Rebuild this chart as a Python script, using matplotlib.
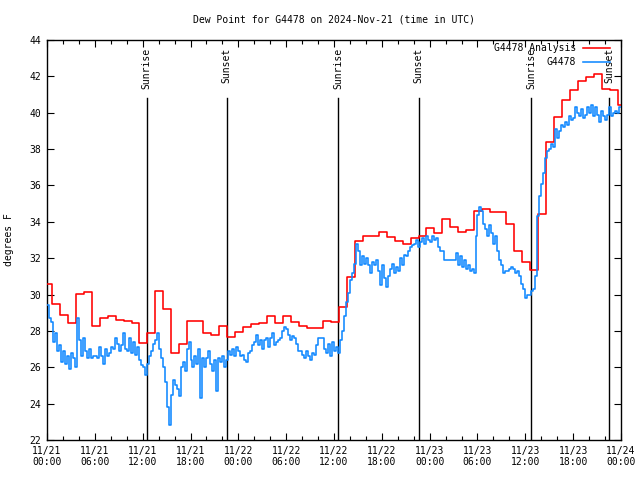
import numpy as np
import matplotlib
matplotlib.use("Agg")
import matplotlib.pyplot as plt

# ---------------- data ----------------
# hours since 2024-11-21 00:00 UTC
tick_hours = [0, 6, 12, 18, 24, 30, 36, 42, 48, 54, 60, 66, 72]
tick_labels = ["11/21\n00:00", "11/21\n06:00", "11/21\n12:00", "11/21\n18:00",
               "11/22\n00:00", "11/22\n06:00", "11/22\n12:00", "11/22\n18:00",
               "11/23\n00:00", "11/23\n06:00", "11/23\n12:00", "11/23\n18:00",
               "11/24\n00:00"]

# analysis (hourly steps, each value starts at hour - 0.4)
analysis_start = -0.4
analysis = [30.58, 29.5, 28.87, 28.42, 30.01, 30.12, 28.27, 28.7, 28.8, 28.6,
            28.55, 28.42, 27.36, 27.87, 30.2, 29.2, 26.77, 27.28, 28.55, 28.55,
            27.87, 27.78, 28.27, 27.68, 27.96, 28.2, 28.36, 28.42, 28.84, 28.42,
            28.84, 28.47, 28.27, 28.14, 28.14, 28.55, 28.47, 29.3, 30.95, 32.96,
            33.22, 33.22, 33.42, 33.15, 32.95, 32.78, 33.09, 33.2, 33.64, 33.37,
            34.14, 33.74, 33.42, 33.55, 34.6, 34.69, 34.56, 34.56, 33.86, 32.42,
            31.81, 31.35, 34.43, 38.41, 39.74, 40.7, 41.25, 41.75, 41.95, 42.12,
            41.3, 41.25, 40.43]

# observations, every 15 minutes from 00:00
obs_step = 0.25
obs = [
    29.4, 28.7, 28.5, 27.4,  27.9, 26.9, 27.2, 26.3,  26.9, 26.2, 26.6, 25.9,
    26.8, 26.5, 26.0, 28.7,  27.5, 26.6, 27.6, 26.9,  26.5, 27.0, 26.5, 26.6,
    26.6, 26.5, 27.1, 26.6,  26.2, 27.0, 26.6, 26.8,  27.1, 27.0, 27.6, 27.3,
    26.9, 27.2, 27.9, 27.0,  26.9, 27.6, 26.8, 27.4,  26.7, 27.1, 26.4, 26.1,
    26.0, 25.6, 26.2, 26.6,  26.9, 27.3, 27.5, 27.9,  27.0, 26.5, 26.0, 25.2,
    23.8, 22.8, 24.5, 25.3,  25.0, 24.8, 24.4, 26.0,  26.3, 25.8, 27.0, 27.4,
    26.4, 26.0, 26.6, 26.2,  27.0, 24.3, 26.5, 26.0,  26.5, 26.9, 26.2, 25.8,
    26.4, 24.7, 26.5, 26.3,  26.6, 26.0, 26.4, 26.9,  26.7, 27.0, 26.6, 27.1,
    26.9, 26.6, 26.7, 26.4,  26.3, 26.8, 26.9, 27.2,  27.4, 27.8, 27.2, 27.5,
    27.0, 27.5, 27.6, 27.1,  27.6, 27.9, 27.2, 27.4,  27.5, 27.6, 28.0, 28.2,
    28.1, 27.8, 27.5, 27.7,  27.6, 27.3, 26.9, 26.9,  26.7, 26.5, 26.9, 26.6,
    26.4, 26.8, 26.7, 27.2,  27.6, 27.6, 27.6, 27.0,  26.8, 27.3, 26.6, 27.4,
    26.9, 27.1, 26.8, 27.5,  28.0, 28.8, 29.6, 30.1,  30.8, 31.2, 31.7, 32.8,
    32.4, 31.6, 32.1, 31.7,  32.0, 31.6, 31.2, 31.8,  31.6, 31.9, 31.3, 30.5,
    31.6, 30.9, 30.4, 31.0,  31.4, 31.7, 31.2, 31.5,  31.3, 32.0, 31.6, 32.2,
    32.1, 32.4, 32.6, 32.7,  32.8, 33.0, 32.6, 32.9,  33.1, 32.8, 33.2, 33.0,
    32.9, 33.2, 33.0, 33.1,  32.6, 32.4, 32.4, 31.9,  31.9, 31.9, 31.9, 31.9,
    31.9, 32.3, 31.6, 32.1,  31.5, 31.9, 31.4, 31.6,  31.3, 31.4, 31.2, 33.2,
    34.4, 34.8, 34.6, 33.9,  33.6, 33.2, 33.8, 33.4,  32.8, 33.2, 32.4, 31.9,
    31.6, 31.2, 31.3, 31.3,  31.4, 31.5, 31.4, 31.2,  31.3, 31.0, 30.6, 30.3,
    29.8, 30.0, 30.0, 30.2,  30.3, 31.0, 34.3, 35.4,  36.1, 36.7, 37.5, 37.9,
    38.0, 38.3, 38.1, 39.1,  38.6, 39.0, 39.3, 39.2,  39.5, 39.3, 39.8, 39.6,
    39.7, 40.3, 40.0, 39.8,  40.2, 39.7, 39.9, 40.3,  40.0, 40.4, 39.8, 40.3,
    39.9, 39.5, 40.1, 39.8,  39.6, 39.9, 40.3, 39.8,  40.0, 40.1, 40.0, 40.3,
]

sunrise_hours = [12.5, 36.55, 60.7]
sunset_hours = [22.55, 46.6, 70.55]

title = "Dew Point for G4478 on 2024-Nov-21 (time in UTC)"
ylabel = "degrees F"
label_analysis = "G4478 Analysis"
label_obs = "G4478"

# ---------------- plot ----------------
FONT = "DejaVu Sans Mono"
FS = 7
plt.rcParams["font.family"] = FONT
plt.rcParams["font.size"] = FS

fig = plt.figure(figsize=(6.4, 4.8), dpi=100)
ax = fig.add_axes([47 / 640, 1 - 440 / 480, (621 - 47) / 640, 400 / 480])

ax_x = analysis_start + np.arange(len(analysis) + 1)
ax_y = list(analysis) + [analysis[-1]]
ax.plot(ax_x, ax_y, drawstyle="steps-post", color="#ff0000", lw=1.15,
        label=label_analysis, zorder=3)

ob_x = np.arange(len(obs) + 1) * obs_step
ob_y = list(obs) + [obs[-1]]
ax.plot(ob_x, ob_y, drawstyle="steps-post", color="#1088ff", lw=1.15,
        label=label_obs, zorder=4)

ymin, ymax = 22, 44
ax.set_xlim(0, 72)
ax.set_ylim(ymin, ymax)

line_top = ymax - 58 / 400 * (ymax - ymin)
text_top = ymax - 8 / 400 * (ymax - ymin)
for name, hours in (("Sunrise", sunrise_hours), ("Sunset", sunset_hours)):
    for h in hours:
        ax.plot([h, h], [ymin, line_top], color="black", lw=1.0, zorder=2)
        ax.text(h, text_top, name, rotation=90, ha="center", va="top",
                fontsize=FS, zorder=5)

ax.set_xticks(tick_hours)
ax.set_xticklabels(tick_labels)
ax.set_xticks(np.arange(0, 73, 2), minor=True)
ax.set_yticks(np.arange(22, 45, 2))
ax.tick_params(axis="both", which="major", direction="in", length=5, width=0.8,
               top=True, right=True, labelsize=FS, pad=4)
ax.tick_params(axis="x", which="minor", direction="in", length=3, width=0.8,
               top=True, bottom=True)
for s in ax.spines.values():
    s.set_linewidth(1.0)

ax.set_ylabel(ylabel, fontsize=FS, labelpad=11)
fig.text(334 / 640, 1 - 20 / 480, title, ha="center", va="center", fontsize=FS)

leg = ax.legend(loc="upper right", frameon=False, markerfirst=False,
                bbox_to_anchor=((610 - 47) / 574, 1 - 3.0 / 400),
                handlelength=2.8, handletextpad=0.7, labelspacing=0.45,
                borderaxespad=0.0, borderpad=0.0, fontsize=FS)

fig.savefig("out.png", dpi=100)
